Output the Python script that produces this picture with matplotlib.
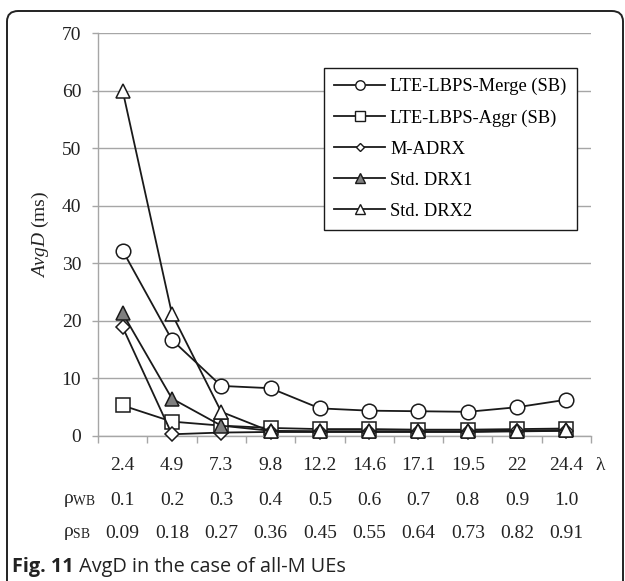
import matplotlib
matplotlib.use('Agg')
import matplotlib.pyplot as plt
from matplotlib.patches import FancyBboxPatch
from matplotlib.lines import Line2D

# datos
lambdas = ['2.4', '4.9', '7.3', '9.8', '12.2', '14.6', '17.1', '19.5', '22', '24.4']
rho_wb = ['0.1', '0.2', '0.3', '0.4', '0.5', '0.6', '0.7', '0.8', '0.9', '1.0']
rho_sb = ['0.09', '0.18', '0.27', '0.36', '0.45', '0.55', '0.64', '0.73', '0.82', '0.91']

merge_sb = [32.2, 16.7, 8.7, 8.3, 4.8, 4.4, 4.3, 4.2, 5.0, 6.3]
aggr_sb = [5.3, 2.5, 1.8, 1.4, 1.2, 1.2, 1.1, 1.1, 1.2, 1.3]
m_adrx = [18.9, 0.3, 0.6, 0.7, 0.7, 0.7, 0.7, 0.7, 0.8, 0.9]
std_drx1 = [21.3, 6.5, 1.8, 0.9, 0.8, 0.8, 0.8, 0.8, 0.9, 1.0]
std_drx2 = [60.0, 21.2, 4.2, 0.8, 0.8, 0.8, 0.8, 0.8, 0.9, 1.0]

plt.rcParams['font.family'] = ['Liberation Serif', 'DejaVu Serif']
plt.rcParams['mathtext.fontset'] = 'custom'
plt.rcParams['mathtext.rm'] = 'Liberation Serif'
plt.rcParams['mathtext.it'] = 'Liberation Serif:italic'

W, H = 625, 581
fig = plt.figure(figsize=(W / 100, H / 100), dpi=100)

# marco redondeado de la figura
marco = FancyBboxPatch((7 / W, -0.1), (623 - 7) / W, 1.1 - 11 / H,
                       boxstyle='round,pad=0,rounding_size=0.018',
                       transform=fig.transFigure, fill=False,
                       edgecolor='#222222', linewidth=1.4)
fig.patches.append(marco)

ax = fig.add_axes([98 / W, 1 - 436 / H, (591 - 98) / W, (436 - 33) / H])

x = list(range(len(lambdas)))
gris = '#a6a6a6'
fs = 14
fs_leg = 13.3

series = [
    (merge_sb, 'LTE-LBPS-Merge (SB)', 'o', 'white', 10.5),
    (aggr_sb, 'LTE-LBPS-Aggr (SB)', 's', 'white', 10),
    (m_adrx, 'M-ADRX', 'D', 'white', 7),
    (std_drx1, 'Std. DRX1', '^', '#7f7f7f', 10.5),
    (std_drx2, 'Std. DRX2', '^', 'white', 10.5),
]

handles = []
for vals, nombre, mk, fc, ms in series:
    ax.plot(x, vals, color='#1a1a1a', linewidth=1.3, marker=mk,
            markersize=ms, markerfacecolor=fc, markeredgecolor='#1a1a1a',
            markeredgewidth=1.1, clip_on=False, zorder=3)
    handles.append(Line2D([], [], color='#1a1a1a', linewidth=1.3, marker=mk,
                          markersize=ms * 0.65, markerfacecolor=fc,
                          markeredgecolor='#1a1a1a', markeredgewidth=1.0,
                          label=nombre))

ax.set_xlim(-0.5, len(lambdas) - 0.5)
ax.set_ylim(0, 70)
ax.set_yticks(range(0, 71, 10))
ax.grid(axis='y', color=gris, linewidth=1.0)
ax.set_axisbelow(True)
for s in ['top', 'right']:
    ax.spines[s].set_visible(False)
for s in ['left', 'bottom']:
    ax.spines[s].set_color(gris)
    ax.spines[s].set_linewidth(1.0)

ax.set_xticks([i + 0.5 for i in range(-1, len(lambdas))])
ax.set_xticklabels([])
ax.tick_params(axis='x', direction='out', length=5, color=gris, width=1.0)
ax.tick_params(axis='y', direction='out', length=4, color=gris, width=1.0,
               labelsize=fs, pad=8, labelcolor='#222222')

# filas de etiquetas bajo el eje
tr = ax.get_xaxis_transform()
filas = [(lambdas, -0.074), (rho_wb, -0.161), (rho_sb, -0.241)]
for etiquetas, yy in filas:
    for i, t in enumerate(etiquetas):
        ax.text(i, yy, t, transform=tr, ha='center', va='center',
                fontsize=fs, color='#222222')
ax.text(1.018, -0.074, 'λ', transform=ax.transAxes, ha='center',
        va='center', fontsize=fs, color='#222222')
ax.text(-0.071, -0.161, r'ρ$_{\mathrm{WB}}$', transform=ax.transAxes,
        ha='left', va='center', fontsize=fs, color='#222222')
ax.text(-0.071, -0.241, r'ρ$_{\mathrm{SB}}$', transform=ax.transAxes,
        ha='left', va='center', fontsize=fs, color='#222222')

ax.set_ylabel(r'$\mathit{AvgD}$ (ms)', fontsize=fs, color='#222222',
              labelpad=8)

leg = ax.legend(handles=handles, loc='upper left',
                bbox_to_anchor=((324 - 98) / 493, (436 - 68) / 403),
                fontsize=fs_leg, frameon=True, fancybox=False,
                handlelength=2.75, handletextpad=0.3, labelspacing=0.76,
                borderpad=0.55, borderaxespad=0)
leg.get_frame().set_edgecolor('#1a1a1a')
leg.get_frame().set_linewidth(1.0)
leg.get_frame().set_alpha(1)

# pie de figura
t1 = fig.text(12 / W, 1 - 567 / H, 'Fig. 11', fontsize=14.3,
              fontweight='bold', family='Open Sans', va='center', ha='left',
              color='#222222')
ax.annotate(' AvgD in the case of all-M UEs', xy=(1, 0.5), xycoords=t1,
            va='center', ha='left', fontsize=14.3, family='Open Sans',
            color='#222222', annotation_clip=False)

fig.savefig('out.png', dpi=100)
plt.close(fig)
